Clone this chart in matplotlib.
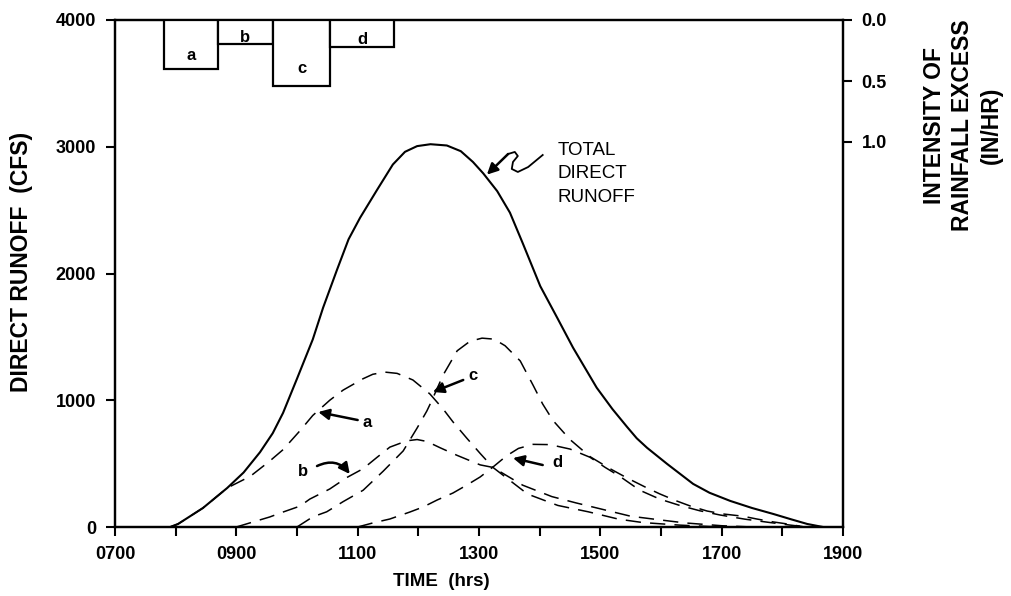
import numpy as np
import matplotlib
matplotlib.use('Agg')
import matplotlib.pyplot as plt

plt.rcParams['font.family'] = ['Liberation Sans', 'DejaVu Sans']

# 降雨超渗强度 (块 a, b, c, d)
rain_names = ['a', 'b', 'c', 'd']
rain_start = [7.8, 8.7, 9.6, 10.55]
rain_end = [8.7, 9.6, 10.55, 11.6]
rain_depth = [0.40, 0.20, 0.54, 0.22]

# 总直接径流
t_total = [7.91, 8.04, 8.45, 8.85, 9.12, 9.39, 9.6, 9.77, 10.0, 10.26, 10.43, 10.66, 10.85,
           11.04, 11.32, 11.58, 11.78, 11.98, 12.2, 12.47, 12.7, 12.9, 13.07, 13.3, 13.51,
           13.72, 14.01, 14.29, 14.55, 14.94, 15.2, 15.44, 15.6, 15.77, 16.10, 16.53, 16.8,
           17.14, 17.5, 17.85, 18.15, 18.41, 18.67]
q_total = [0, 24, 150, 308, 430, 590, 740, 900, 1170, 1480, 1730, 2030, 2270,
           2440, 2660, 2860, 2960, 3005, 3020, 3010, 2965, 2880, 2790, 2650, 2480,
           2240, 1900, 1650, 1415, 1099, 930, 790, 700, 625, 498, 340, 270,
           206, 150, 103, 60, 24, 0]

# 各块的径流过程线
t_a = [7.91, 8.04, 8.45, 8.85, 9.23, 9.55, 9.77, 10.05, 10.26, 10.54, 10.76, 11.09, 11.25,
       11.45, 11.65, 11.91, 12.19, 12.41, 12.57, 12.80, 13.02, 13.23, 13.8, 14.3, 14.8,
       15.3, 15.7, 16.3, 16.8, 17.4]
q_a = [0, 24, 150, 308, 400, 520, 610, 760, 880, 1000, 1080, 1170, 1205,
       1222, 1212, 1160, 1050, 930, 830, 700, 580, 470, 260, 170, 120,
       62, 35, 15, 4, 0]

t_b = [9.0, 9.27, 9.55, 9.77, 10.05, 10.21, 10.54, 10.82, 11.09, 11.32, 11.53, 11.81, 11.98,
       12.14, 12.36, 12.64, 13.02, 13.23, 13.72, 14.2, 14.6, 15.2, 15.5, 16.0, 16.4, 17.0, 17.5]
q_b = [0, 39, 79, 118, 165, 220, 300, 390, 460, 550, 630, 680, 690,
       675, 625, 565, 490, 470, 330, 240, 190, 120, 85, 55, 32, 10, 0]

t_c = [10.0, 10.26, 10.49, 10.76, 11.09, 11.42, 11.75, 11.98, 12.14, 12.21, 12.41, 12.64,
       12.85, 13.05, 13.25, 13.43, 13.68, 13.89, 14.05, 14.22, 14.50, 14.83, 15.16, 15.44,
       15.77, 15.98, 16.26, 16.48, 16.76, 17.02, 17.35, 17.58, 17.85, 18.08, 18.37]
q_c = [0, 80, 120, 200, 290, 440, 600, 781, 915, 985, 1200, 1390,
       1465, 1490, 1482, 1430, 1310, 1120, 970, 840, 690, 555, 460, 387,
       308, 261, 205, 166, 126, 103, 85, 63, 40, 24, 0]

t_d = [11.0, 11.25, 11.53, 11.86, 12.08, 12.31, 12.57, 12.80, 13.02, 13.23, 13.45, 13.65,
       13.89, 14.17, 14.50, 14.83, 15.08, 15.32, 15.65, 15.98, 16.31, 16.64, 16.97, 17.38,
       17.80, 18.13, 18.40]
q_d = [0, 32, 63, 118, 158, 213, 268, 331, 395, 473, 560, 620,
       652, 650, 615, 550, 470, 400, 290, 220, 170, 128, 95, 62,
       35, 15, 0]

hours = np.arange(7, 20)
label_hours = np.arange(7, 20, 2)

fig = plt.figure(figsize=(10.12, 5.96), dpi=100)
ax = fig.add_axes([115 / 1012, 1 - 527 / 596, 728 / 1012, 507 / 596])

ax.plot(t_total, q_total, color='k', lw=1.5, solid_joinstyle='round')
dash = (0, (10, 6))
for tt, qq in [(t_a, q_a), (t_b, q_b), (t_c, q_c), (t_d, q_d)]:
    ax.plot(tt, qq, color='k', lw=1.1, linestyle=dash)

ax.set_xlim(7, 19)
ax.set_ylim(0, 4000)
ax.set_yticks([0, 1000, 2000, 3000, 4000])
ax.set_xticks(label_hours)
ax.set_xticklabels(['%02d00' % h for h in label_hours])
ax.set_xticks(hours, minor=True)
ax.tick_params(which='both', direction='out', length=6.5, width=1.5,
               labelsize=13, pad=7)
for lab in ax.get_xticklabels() + ax.get_yticklabels():
    lab.set_fontweight('bold')
for sp in ax.spines.values():
    sp.set_linewidth(1.6)

# 右轴：降雨强度（倒置）
ax2 = ax.twinx()
ax2.set_ylim((527 - 20) / 122.0, 0)
ax2.set_yticks([0.0, 0.5, 1.0])
ax2.set_yticklabels(['0.0', '0.5', '1.0'])
ax2.tick_params(direction='out', length=6.5, width=1.5, labelsize=13, pad=7)
for lab in ax2.get_yticklabels():
    lab.set_fontweight('bold')
for sp in ax2.spines.values():
    sp.set_linewidth(1.6)

widths = [e - s for s, e in zip(rain_start, rain_end)]
ax2.bar(rain_start, rain_depth, width=widths, align='edge', bottom=0,
        facecolor='white', edgecolor='k', linewidth=1.6, zorder=3)
for s, w, d, n in zip(rain_start, widths, rain_depth, rain_names):
    ax2.text(s + w / 2, d * 0.73, n, ha='center', va='center',
             fontsize=12, fontweight='bold', zorder=4)

# 坐标轴标题
fig.text(22 / 1012, 1 - 262 / 596, 'DIRECT RUNOFF  (CFS)', rotation=90,
         ha='center', va='center', fontsize=16.5, fontweight='bold')
fig.text(441 / 1012, 1 - 582 / 596, 'TIME  (hrs)', ha='center', va='center',
         fontsize=13.5, fontweight='bold')
fig.text(963 / 1012, 1 - 125 / 596, 'INTENSITY OF\nRAINFALL EXCESS\n(IN/HR)',
         rotation=90, ha='center', va='center', multialignment='center',
         fontsize=16.5, fontweight='bold', linespacing=1.28)

# 注释
ax.text(14.30, 3040, 'TOTAL\nDIRECT\nRUNOFF', ha='left', va='top',
        fontsize=13.5, linespacing=1.52)
sq_t = [14.05, 13.81, 13.64, 13.54, 13.56, 13.64, 13.59, 13.48]
sq_q = [2935, 2840, 2801, 2825, 2880, 2927, 2959, 2943]
ax.plot(sq_t, sq_q, color='k', lw=1.3)
arrow = dict(arrowstyle='-|>', color='k', lw=1.8, mutation_scale=16, shrinkA=0, shrinkB=0)
ax.annotate('', xy=(13.13, 2780), xytext=(13.48, 2943), arrowprops=arrow)

ax.text(11.15, 828, 'a', ha='center', va='center', fontsize=12, fontweight='bold')
ax.annotate('', xy=(10.35, 907), xytext=(11.0, 844), arrowprops=arrow)

ax.text(10.10, 434, 'b', ha='center', va='center', fontsize=12, fontweight='bold')
ax.annotate('', xy=(10.87, 418), xytext=(10.33, 481),
            arrowprops=dict(arrow, connectionstyle='arc3,rad=-0.4'))

ax.text(12.90, 1199, 'c', ha='center', va='center', fontsize=12, fontweight='bold')
ax.annotate('', xy=(12.24, 1065), xytext=(12.74, 1160), arrowprops=arrow)

ax.text(14.29, 505, 'd', ha='center', va='center', fontsize=12, fontweight='bold')
ax.annotate('', xy=(13.56, 544), xytext=(14.05, 489), arrowprops=arrow)

fig.savefig('out.png', dpi=100)
